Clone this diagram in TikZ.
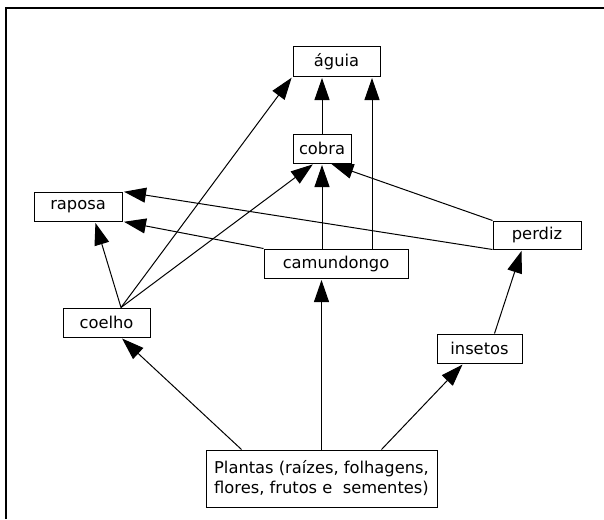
\documentclass[tikz,border=0pt]{standalone}
\usepackage{fontspec}
\setmainfont{DejaVu Sans}
\usetikzlibrary{arrows.meta}
\begin{document}
\begin{tikzpicture}[x=1pt,y=-1pt,
  box/.style={draw, line width=1pt, inner sep=0pt, minimum height=29pt, align=center,
    font=\fontsize{16.3}{20}\selectfont},
  link/.style={line width=1pt, -{Triangle[length=22pt,width=15pt]}, shorten >=1.5pt}]
\useasboundingbox (0,0) rectangle (604,519);
\draw[line width=1.5pt] (6,519) -- (6,8) -- (604,8);
\node[box, minimum width=87pt] (aguia) at (336.5,61.5) {águia};
\node[box, minimum width=58pt] (cobra) at (322,148.5) {cobra};
\node[box, minimum width=88pt] (raposa) at (78,206.5) {raposa};
\node[box, minimum width=144pt] (camundongo) at (336,263.5) {camundongo};
\node[box, minimum width=88pt, minimum height=28pt] (perdiz) at (537,235) {perdiz};
\node[box, minimum width=87pt] (coelho) at (106.5,322.5) {coelho};
\node[box, minimum width=85pt] (insetos) at (479.5,348.5) {insetos};
\node[box, minimum width=231pt, minimum height=57pt] (plantas) at (321.5,478.5)
  {Plantas (raízes, folhagens,\\flores, frutos e\ \ sementes)};
\coordinate (cotop) at ([xshift=14.5pt]coelho.north);
\coordinate (cobot) at ([xshift=14.5pt]coelho.south);
\coordinate (cmA) at ([xshift=36pt]camundongo.north);
\coordinate (cmB) at ([xshift=-14pt]camundongo.north);
\coordinate (rpA) at ([xshift=17pt]raposa.south);
\coordinate (cbL) at ([xshift=-8pt]cobra.south);
\coordinate (cbR) at ([xshift=8pt]cobra.south);
\coordinate (plL) at ([xshift=-80pt]plantas.north);
\coordinate (plR) at ([xshift=60pt]plantas.north);
\coordinate (inB) at ([xshift=-16pt]insetos.south);
\coordinate (inT) at ([xshift=15pt]insetos.north);
\coordinate (pdB) at ([xshift=-15pt]perdiz.south);
\draw[link] (cobra.north) -- (cobra.north |- aguia.south);
\draw[link] (cmA) -- (cmA |- aguia.south);
\draw[link] (cotop) -- (aguia.south west);
\draw[link] (cotop) -- (cbL);
\draw[link] (cmB) -- (cobra.south);
\draw[link] (perdiz.north west) -- (cbR);
\draw[link] (camundongo.north west) -- (raposa.south east);
\draw[link] (perdiz.south west) -- (raposa.north east);
\draw[link] (cotop) -- (rpA);
\draw[link] (plL) -- (cobot);
\draw[link] (plantas.north) -- (plantas.north |- camundongo.south);
\draw[link] (plR) -- (inB);
\draw[link] (inT) -- (pdB);
\end{tikzpicture}
\end{document}
